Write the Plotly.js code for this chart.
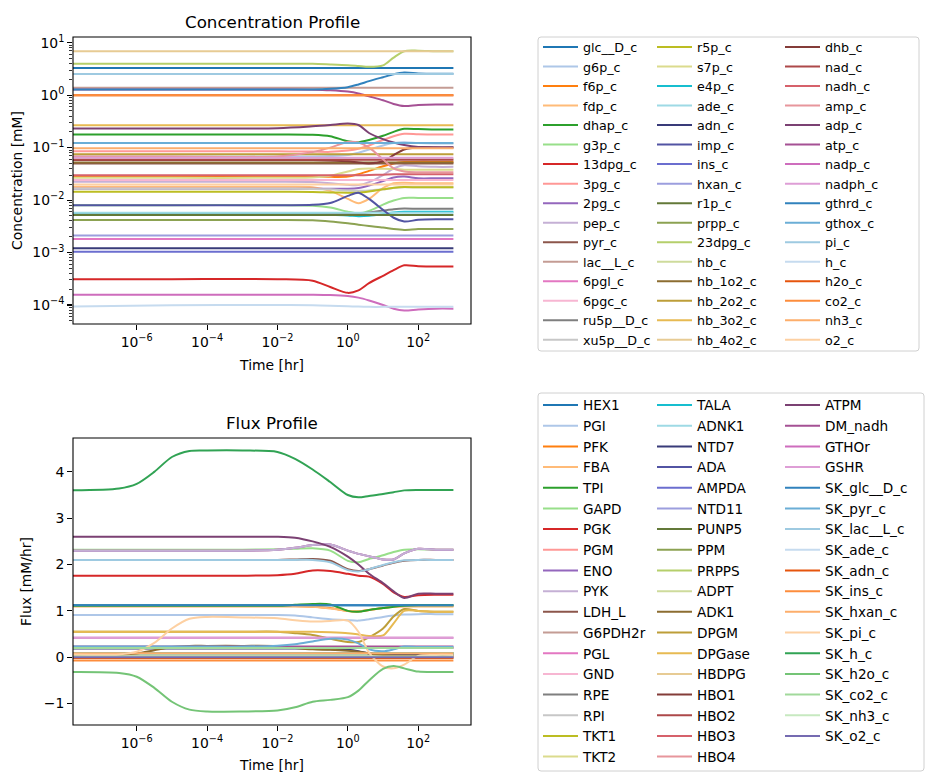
<!DOCTYPE html>
<html>
<head>
<meta charset="utf-8">
<script src="https://cdn.plot.ly/plotly-3.0.1.min.js"></script>
<style>html,body{margin:0;padding:0;background:#fff;}#chart{width:933px;height:783px;}</style>
</head>
<body>
<div id="chart"></div>
<script>
// ---------------- DATA ----------------
// time knots [hr] for the concentration profile
const concTime = [1e-8, 1e-5, 1e-2, 0.1, 0.316, 1, 2, 4, 10, 20, 40, 100, 316, 1000];
// constant series are given at the first and last time point only
const concTimeEnds = [1e-8, 1000];

const concNames = ['glc__D_c','g6p_c','f6p_c','fdp_c','dhap_c','g3p_c','13dpg_c','3pg_c','2pg_c','pep_c',
  'pyr_c','lac__L_c','6pgl_c','6pgc_c','ru5p__D_c','xu5p__D_c','r5p_c','s7p_c','e4p_c','ade_c',
  'adn_c','imp_c','ins_c','hxan_c','r1p_c','prpp_c','23dpg_c','hb_c','hb_1o2_c','hb_2o2_c',
  'hb_3o2_c','hb_4o2_c','dhb_c','nad_c','nadh_c','amp_c','adp_c','atp_c','nadp_c','nadph_c',
  'gthrd_c','gthox_c','pi_c','h_c','h2o_c','co2_c','nh3_c','o2_c'];

const c_glc__D_c = [3.3, 3.3];
const c_g6p_c = [0.068,0.068,0.068,0.068,0.069,0.072,0.08,0.092,0.11,0.122,0.127,0.122,0.12,0.12];
const c_f6p_c = [0.0277,0.0277,0.0277,0.0277,0.0277,0.028,0.031,0.036,0.044,0.05,0.053,0.054,0.054,0.054];
const c_fdp_c = [0.0179,0.0179,0.0179,0.0176,0.015,0.0105,0.0087,0.0105,0.017,0.021,0.0215,0.021,0.021,0.021];
const c_dhap_c = [0.178,0.178,0.178,0.176,0.165,0.132,0.127,0.14,0.168,0.2,0.228,0.226,0.222,0.222];
const c_g3p_c = [0.008,0.008,0.008,0.0078,0.0072,0.006,0.0056,0.0062,0.0082,0.0098,0.011,0.011,0.011,0.011];
const c_13dpg_c = [0.00031,0.00031,0.00031,0.00029,0.00022,0.00017,0.00019,0.00026,0.00036,0.00046,0.00057,0.00055,0.00054,0.00054];
const c_3pg_c = [0.085,0.085,0.085,0.084,0.083,0.088,0.095,0.11,0.14,0.165,0.183,0.18,0.178,0.178];
const c_2pg_c = [0.0165,0.0165,0.0165,0.0165,0.0165,0.0165,0.017,0.019,0.023,0.027,0.028,0.026,0.026,0.026];
const c_pep_c = [0.0223,0.0223,0.0223,0.022,0.021,0.0195,0.0193,0.022,0.03,0.04,0.046,0.044,0.043,0.043];
const c_pyr_c = [0.05, 0.05];
const c_lac__L_c = [1.38, 1.38];
const c_6pgl_c = [0.0018, 0.0018];
const c_6pgc_c = [0.024, 0.024];
const c_ru5p__D_c = [0.0056,0.0056,0.0056,0.0056,0.0055,0.0054,0.0055,0.0058,0.0063,0.0067,0.0069,0.0068,0.0068,0.0068];
const c_xu5p__D_c = [0.0164,0.0164,0.0164,0.0163,0.016,0.0152,0.015,0.0153,0.016,0.017,0.0175,0.0175,0.0175,0.0175];
const c_r5p_c = [0.0144,0.0144,0.0144,0.0143,0.014,0.0138,0.0138,0.0145,0.016,0.0172,0.0178,0.0175,0.0175,0.0175];
const c_s7p_c = [0.0265,0.0265,0.0265,0.0268,0.029,0.035,0.039,0.04,0.0395,0.039,0.038,0.038,0.038,0.038];
const c_e4p_c = [0.0053,0.0053,0.0053,0.0053,0.0052,0.0051,0.0049,0.005,0.0054,0.0058,0.006,0.006,0.006,0.006];
const c_ade_c = [0.0057, 0.0057];
const c_adn_c = [0.00121, 0.00121];
const c_imp_c = [0.008,0.008,0.008,0.0081,0.0088,0.012,0.0138,0.0105,0.0065,0.0046,0.0039,0.0042,0.0043,0.0043];
const c_ins_c = [0.00103, 0.00103];
const c_hxan_c = [0.0021, 0.0021];
const c_r1p_c = [0.0052, 0.0052];
const c_prpp_c = [0.00415,0.00415,0.00415,0.0041,0.0039,0.0036,0.0034,0.0032,0.003,0.0028,0.0027,0.0028,0.0028,0.0028];
const c_23dpg_c = [3.96,3.96,3.96,3.95,3.85,3.73,3.6,3.47,3.7,5.2,6.9,7.05,6.9,6.9];
const c_hb_c = [0.06, 0.06];
const c_hb_1o2_c = [0.052, 0.052];
const c_hb_2o2_c = [0.075, 0.075];
const c_hb_3o2_c = [0.268, 0.268];
const c_hb_4o2_c = [6.9, 6.9];
const c_dhb_c = [0.058,0.058,0.058,0.058,0.057,0.055,0.052,0.05,0.055,0.072,0.092,0.102,0.1,0.1];
const c_nad_c = [0.059, 0.059];
const c_nadh_c = [0.0298,0.0298,0.0298,0.0298,0.0298,0.0298,0.0298,0.03,0.0305,0.031,0.031,0.031,0.031,0.031];
const c_amp_c = [0.068,0.068,0.068,0.082,0.1,0.128,0.125,0.1,0.06,0.04,0.035,0.034,0.034,0.034];
const c_adp_c = [0.232,0.232,0.235,0.255,0.27,0.288,0.27,0.19,0.145,0.125,0.112,0.103,0.102,0.102];
const c_atp_c = [1.28,1.28,1.28,1.27,1.24,1.17,1.08,0.95,0.8,0.68,0.62,0.65,0.665,0.665];
const c_nadp_c = [0.000157,0.000157,0.000157,0.000157,0.000155,0.000148,0.000138,0.000122,0.0001,0.000085,0.0000785,0.000082,0.000085,0.000085];
const c_nadph_c = [0.064, 0.064];
const c_gthrd_c = [1.28,1.28,1.28,1.28,1.32,1.42,1.6,1.85,2.2,2.5,2.7,2.6,2.55,2.55];
const c_gthox_c = [0.123, 0.123];
const c_pi_c = [2.53, 2.53];
const c_h_c = [0.000093,0.0000985,0.0001,0.0000985,0.000097,0.0000945,0.000093,0.000092,0.000092,0.000092,0.000092,0.000092,0.000092,0.000092];
const c_h2o_c = [1.0, 1.0];
const c_co2_c = [1.0, 1.0];
const c_nh3_c = [0.097, 0.097];
const c_o2_c = [0.0199, 0.0199];

const concSeries = [c_glc__D_c,c_g6p_c,c_f6p_c,c_fdp_c,c_dhap_c,c_g3p_c,c_13dpg_c,c_3pg_c,c_2pg_c,c_pep_c,
  c_pyr_c,c_lac__L_c,c_6pgl_c,c_6pgc_c,c_ru5p__D_c,c_xu5p__D_c,c_r5p_c,c_s7p_c,c_e4p_c,c_ade_c,
  c_adn_c,c_imp_c,c_ins_c,c_hxan_c,c_r1p_c,c_prpp_c,c_23dpg_c,c_hb_c,c_hb_1o2_c,c_hb_2o2_c,
  c_hb_3o2_c,c_hb_4o2_c,c_dhb_c,c_nad_c,c_nadh_c,c_amp_c,c_adp_c,c_atp_c,c_nadp_c,c_nadph_c,
  c_gthrd_c,c_gthox_c,c_pi_c,c_h_c,c_h2o_c,c_co2_c,c_nh3_c,c_o2_c];

// time knots [hr] for the flux profile
const fluxTime = [1e-8, 3.16e-7, 1e-6, 3.16e-6, 1e-5, 3.16e-5, 1e-4, 1e-3, 1e-2, 0.0316, 0.1, 0.316, 1, 2, 4, 10, 20, 40, 100, 316, 1000];
const fluxTimeEnds = [1e-8, 1000];

const fluxNames = ['HEX1','PGI','PFK','FBA','TPI','GAPD','PGK','PGM','ENO','PYK',
  'LDH_L','G6PDH2r','PGL','GND','RPE','RPI','TKT1','TKT2','TALA','ADNK1',
  'NTD7','ADA','AMPDA','NTD11','PUNP5','PPM','PRPPS','ADPT','ADK1','DPGM',
  'DPGase','HBDPG','HBO1','HBO2','HBO3','HBO4','ATPM','DM_nadh','GTHOr','GSHR',
  'SK_glc__D_c','SK_pyr_c','SK_lac__L_c','SK_ade_c','SK_adn_c','SK_ins_c','SK_hxan_c','SK_pi_c','SK_h_c','SK_h2o_c',
  'SK_co2_c','SK_nh3_c','SK_o2_c'];

const f_HEX1 = [1.12, 1.12];
const f_PGI = [0.91,0.91,0.91,0.91,0.91,0.91,0.91,0.91,0.91,0.9,0.86,0.82,0.8,0.79,0.82,0.87,0.9,0.92,0.93,0.93,0.93];
const f_PFK = [1.1,1.1,1.1,1.1,1.1,1.1,1.1,1.1,1.1,1.1,1.09,1.06,1.0,0.99,1.02,1.06,1.09,1.1,1.1,1.1,1.1];
const f_FBA = [1.1,1.1,1.1,1.1,1.1,1.1,1.1,1.1,1.1,1.1,1.09,1.05,1.0,0.99,1.02,1.06,1.09,1.1,1.1,1.1,1.1];
const f_TPI = [1.11,1.11,1.11,1.11,1.11,1.11,1.11,1.11,1.11,1.13,1.15,1.14,1.0,0.98,1.02,1.06,1.09,1.11,1.12,1.12,1.12];
const f_GAPD = [2.32,2.32,2.32,2.32,2.32,2.32,2.32,2.32,2.33,2.34,2.35,2.3,2.08,2.05,2.12,2.2,2.27,2.32,2.33,2.32,2.32];
const f_PGK = [1.76,1.76,1.76,1.76,1.76,1.76,1.76,1.76,1.77,1.8,1.87,1.86,1.8,1.76,1.74,1.58,1.4,1.3,1.34,1.35,1.35];
const f_PGM = [2.3,2.3,2.3,2.3,2.3,2.3,2.3,2.3,2.32,2.36,2.42,2.43,2.3,2.23,2.18,2.11,2.11,2.24,2.34,2.32,2.32];
const f_ENO = [2.3,2.3,2.3,2.3,2.3,2.3,2.3,2.3,2.32,2.36,2.42,2.43,2.3,2.23,2.18,2.11,2.11,2.24,2.34,2.32,2.32];
const f_PYK = [2.3,2.3,2.3,2.3,2.3,2.3,2.3,2.3,2.32,2.36,2.42,2.43,2.3,2.23,2.18,2.11,2.11,2.24,2.34,2.32,2.32];
const f_LDH_L = [2.1,2.1,2.1,2.1,2.1,2.1,2.1,2.1,2.1,2.11,2.12,2.08,1.9,1.86,1.9,1.98,2.04,2.08,2.1,2.1,2.1];
const f_G6PDH2r = [0.2, 0.2];
const f_PGL = [0.2, 0.2];
const f_GND = [0.2, 0.2];
const f_RPE = [0.085, 0.085];
const f_RPI = [0.085, 0.085];
const f_TKT1 = [0.085, 0.085];
const f_TKT2 = [0.085, 0.085];
const f_TALA = [0.085, 0.085];
const f_ADNK1 = [0.03, 0.03];
const f_NTD7 = [0.19,0.19,0.19,0.19,0.19,0.19,0.19,0.19,0.19,0.19,0.19,0.17,0.16,0.13,0.08,0.05,0.05,0.05,0.05,0.05,0.05];
const f_ADA = [0.01, 0.01];
const f_AMPDA = [0.014, 0.014];
const f_NTD11 = [0.014, 0.014];
const f_PUNP5 = [0.01, 0.01];
const f_PPM = [0.01, 0.01];
const f_PRPPS = [0.01, 0.01];
const f_ADPT = [0.014, 0.014];
const f_ADK1 = [0.06,0.06,0.08,0.15,0.22,0.245,0.245,0.245,0.24,0.2,0.17,0.16,0.14,0.12,0.08,0.05,0.04,0.04,0.04,0.04,0.04];
const f_DPGM = [0.55,0.55,0.55,0.55,0.55,0.55,0.55,0.55,0.55,0.52,0.48,0.4,0.33,0.33,0.43,0.62,0.88,1.04,1.0,0.98,0.98];
const f_DPGase = [0.55,0.55,0.55,0.55,0.55,0.55,0.55,0.55,0.55,0.55,0.55,0.54,0.52,0.49,0.46,0.47,0.73,1.0,1.0,0.98,0.98];
const f_HBDPG = [0, 0];
const f_HBO1 = [0, 0];
const f_HBO2 = [0, 0];
const f_HBO3 = [0, 0];
const f_HBO4 = [0, 0];
const f_ATPM = [2.6,2.6,2.6,2.6,2.6,2.6,2.6,2.6,2.6,2.58,2.5,2.38,2.17,2.0,1.8,1.6,1.42,1.28,1.37,1.37,1.37];
const f_DM_nadh = [0.23, 0.23];
const f_GTHOr = [0.42, 0.42];
const f_GSHR = [0.42, 0.42];
const f_SK_glc__D_c = [1.12, 1.12];
const f_SK_pyr_c = [0.23,0.23,0.23,0.23,0.23,0.23,0.23,0.23,0.25,0.28,0.34,0.4,0.38,0.3,0.17,0.13,0.17,0.23,0.22,0.22,0.22];
const f_SK_lac__L_c = [2.1,2.1,2.1,2.1,2.1,2.1,2.1,2.1,2.1,2.1,2.1,2.05,1.88,1.85,1.9,1.99,2.05,2.09,2.1,2.1,2.1];
const f_SK_ade_c = [-0.014, -0.014];
const f_SK_adn_c = [-0.014, -0.014];
const f_SK_ins_c = [-0.07, -0.07];
const f_SK_hxan_c = [0.086, 0.086];
const f_SK_pi_c = [0.06,0.06,0.12,0.31,0.62,0.83,0.87,0.86,0.84,0.8,0.77,0.78,0.79,0.55,0.1,-0.2,-0.24,-0.16,0.03,0.05,0.05];
const f_SK_h_c = [3.6,3.64,3.74,4.0,4.32,4.45,4.46,4.46,4.43,4.28,4.05,3.78,3.5,3.45,3.48,3.52,3.56,3.6,3.61,3.61,3.61];
const f_SK_h2o_c = [-0.32,-0.34,-0.42,-0.66,-0.96,-1.13,-1.17,-1.17,-1.15,-1.08,-0.96,-0.92,-0.86,-0.72,-0.5,-0.25,-0.19,-0.24,-0.31,-0.32,-0.32];
const f_SK_co2_c = [0.2, 0.2];
const f_SK_nh3_c = [0.014, 0.014];
const f_SK_o2_c = [0.0, 0.0];

const fluxSeries = [f_HEX1,f_PGI,f_PFK,f_FBA,f_TPI,f_GAPD,f_PGK,f_PGM,f_ENO,f_PYK,
  f_LDH_L,f_G6PDH2r,f_PGL,f_GND,f_RPE,f_RPI,f_TKT1,f_TKT2,f_TALA,f_ADNK1,
  f_NTD7,f_ADA,f_AMPDA,f_NTD11,f_PUNP5,f_PPM,f_PRPPS,f_ADPT,f_ADK1,f_DPGM,
  f_DPGase,f_HBDPG,f_HBO1,f_HBO2,f_HBO3,f_HBO4,f_ATPM,f_DM_nadh,f_GTHOr,f_GSHR,
  f_SK_glc__D_c,f_SK_pyr_c,f_SK_lac__L_c,f_SK_ade_c,f_SK_adn_c,f_SK_ins_c,f_SK_hxan_c,f_SK_pi_c,f_SK_h_c,f_SK_h2o_c,
  f_SK_co2_c,f_SK_nh3_c,f_SK_o2_c];

// tick labels
const xTickVals = [1e-6, 1e-4, 1e-2, 1, 100];
const xTickText = ['10<sup>−6</sup>','10<sup>−4</sup>','10<sup>−2</sup>','10<sup>0</sup>','10<sup>2</sup>'];
const concTickVals = [1e-4, 1e-3, 1e-2, 1e-1, 1, 10];
const concTickText = ['10<sup>−4</sup>','10<sup>−3</sup>','10<sup>−2</sup>','10<sup>−1</sup>','10<sup>0</sup>','10<sup>1</sup>'];
const fluxTickVals = [-1, 0, 1, 2, 3, 4];
const fluxTickText = ['−1','0','1','2','3','4'];

// ---------------- STYLE ----------------
const tab20 = ['#1f77b4','#aec7e8','#ff7f0e','#ffbb78','#2ca02c','#98df8a','#d62728','#ff9896','#9467bd','#c5b0d5',
  '#8c564b','#c49c94','#e377c2','#f7b6d2','#7f7f7f','#c7c7c7','#bcbd22','#dbdb8d','#17becf','#9edae5'];
const tab20b = ['#393b79','#5254a3','#6b6ecf','#9c9ede','#637939','#8ca252','#b5cf6b','#cedb9c','#8c6d31','#bd9e39',
  '#e7ba52','#e7cb94','#843c39','#ad494a','#d6616b','#e7969c','#7b4173','#a55194','#ce6dbd','#de9ed6'];
const tab20c = ['#3182bd','#6baed6','#9ecae1','#c6dbef','#e6550d','#fd8d3c','#fdae6b','#fdd0a2','#31a354','#74c476',
  '#a1d99b','#c7e9c0','#756bb1','#9e9ac8','#bcbddc','#dadaeb','#636363','#969696','#bdbdbd','#d9d9d9'];
const palette = tab20.concat(tab20b, tab20c);

const W = 933, H = 783;
const FONT = 'DejaVu Sans, sans-serif';
const px = v => v / W;
const py = v => 1 - v / H;
const LW = 2.0;

const traces = [];
concNames.forEach((name, i) => {
  const v = concSeries[i];
  traces.push({
    type: 'scatter', mode: 'lines', name: name,
    x: v.length === 2 ? concTimeEnds : concTime, y: v,
    xaxis: 'x', yaxis: 'y',
    line: {color: palette[i], width: LW, shape: 'spline', smoothing: 0.8},
    legend: ['legend','legend2','legend3'][Math.floor(i / 16)],
    hoverinfo: 'skip'
  });
});
fluxNames.forEach((name, i) => {
  const v = fluxSeries[i];
  traces.push({
    type: 'scatter', mode: 'lines', name: name,
    x: v.length === 2 ? fluxTimeEnds : fluxTime, y: v,
    xaxis: 'x2', yaxis: 'y2',
    line: {color: palette[i], width: LW, shape: 'spline', smoothing: 0.8},
    legend: ['legend4','legend5','legend6'][Math.floor(i / 18)],
    hoverinfo: 'skip'
  });
});

const axisCommon = {
  showline: false,
  ticks: 'outside', ticklen: 4.9, tickwidth: 1.1, tickcolor: '#000',
  showgrid: false, zeroline: false,
  tickfont: {family: FONT, size: 13.9, color: '#000'}
};
const xDomain = [px(73), px(471)];
const titleFont = {family: FONT, size: 13.9, color: '#000'};

function legendBox(x0, y0, x1, y1) {
  const rx = 3 / W, ry = 3 / H;
  const X0 = px(x0), X1 = px(x1), Y0 = py(y0), Y1 = py(y1);
  return {
    type: 'path', xref: 'paper', yref: 'paper',
    path: `M ${X0 + rx},${Y0} L ${X1 - rx},${Y0} Q ${X1},${Y0} ${X1},${Y0 - ry} L ${X1},${Y1 + ry} Q ${X1},${Y1} ${X1 - rx},${Y1} L ${X0 + rx},${Y1} Q ${X0},${Y1} ${X0},${Y1 + ry} L ${X0},${Y0 - ry} Q ${X0},${Y0} ${X0 + rx},${Y0} Z`,
    line: {color: '#d0d0d0', width: 1}, fillcolor: 'rgba(255,255,255,0.8)', layer: 'below'
  };
}
function frame(x0, y0, x1, y1) {
  return {type: 'rect', xref: 'paper', yref: 'paper', x0: px(x0), x1: px(x1), y0: py(y0), y1: py(y1),
    line: {color: '#000', width: 1.1}, fillcolor: 'rgba(0,0,0,0)', layer: 'above'};
}

function legendCfg(xLine, yTop, size) {
  return {
    x: px(xLine - 5), y: py(yTop), xanchor: 'left', yanchor: 'top',
    orientation: 'v', bgcolor: 'rgba(0,0,0,0)', borderwidth: 0,
    font: {family: FONT, size: size, color: '#000'}, itemwidth: 35, traceorder: 'normal'
  };
}

const layout = {
  width: W, height: H,
  margin: {l: 0, r: 0, t: 0, b: 0},
  paper_bgcolor: '#fff', plot_bgcolor: '#fff',
  showlegend: true, hovermode: false,
  font: {family: FONT, color: '#000'},
  xaxis: Object.assign({}, axisCommon, {
    domain: xDomain, anchor: 'y', type: 'log', range: [-7.81, 3.50],
    tickmode: 'array', tickvals: xTickVals, ticktext: xTickText,
    title: {text: 'Time [hr]', standoff: 11, font: titleFont}
  }),
  yaxis: Object.assign({}, axisCommon, {
    domain: [py(324), py(37)], anchor: 'x', type: 'log', range: [-4.363, 1.109],
    tickmode: 'array', tickvals: concTickVals, ticktext: concTickText,
    minor: {ticks: 'outside', ticklen: 2.8, tickwidth: 0.8, tickcolor: '#000', showgrid: false, dtick: 'D1'},
    title: {text: 'Concentration [mM]', standoff: 6, font: titleFont}
  }),
  xaxis2: Object.assign({}, axisCommon, {
    domain: xDomain, anchor: 'y2', type: 'log', range: [-7.81, 3.50],
    tickmode: 'array', tickvals: xTickVals, ticktext: xTickText,
    title: {text: 'Time [hr]', standoff: 10, font: titleFont}
  }),
  yaxis2: Object.assign({}, axisCommon, {
    domain: [py(725), py(438)], anchor: 'x2', range: [-1.462, 4.73],
    tickmode: 'array', tickvals: fluxTickVals, ticktext: fluxTickText,
    title: {text: 'Flux [mM/hr]', standoff: 8, font: titleFont}
  }),
  legend: legendCfg(543, 32.3, 12.7),
  legend2: legendCfg(657, 32.3, 12.7),
  legend3: legendCfg(785, 32.3, 12.7),
  legend4: legendCfg(543, 389.7, 13.6),
  legend5: legendCfg(657, 389.7, 13.6),
  legend6: legendCfg(785, 389.7, 13.6),
  shapes: [legendBox(538, 37, 919, 351), legendBox(538, 393, 924, 771),
           frame(73, 37, 471, 324), frame(73, 438, 471, 725)],
  annotations: [
    {text: 'Concentration Profile', x: px(272), y: py(22), xref: 'paper', yref: 'paper', showarrow: false,
     xanchor: 'center', yanchor: 'middle', font: {family: FONT, size: 16.7, color: '#000'}},
    {text: 'Flux Profile', x: px(272), y: py(423), xref: 'paper', yref: 'paper', showarrow: false,
     xanchor: 'center', yanchor: 'middle', font: {family: FONT, size: 16.7, color: '#000'}}
  ]
};

Plotly.newPlot('chart', traces, layout, {displayModeBar: false, staticPlot: true});
</script>
</body>
</html>
